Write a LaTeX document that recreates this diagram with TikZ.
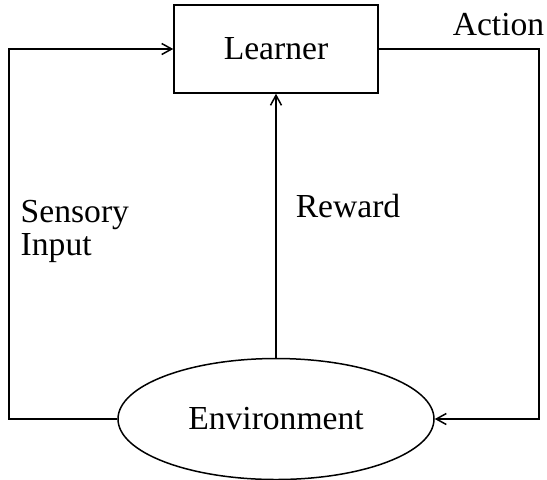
\documentclass[tikz,border=0pt]{standalone}
\usepackage{fontspec}
\setmainfont{Liberation Serif}
\usetikzlibrary{shapes.geometric,arrows.meta}
\begin{document}
\begin{tikzpicture}[x=0.5pt,y=-0.5pt,line width=0.75pt,
  >={Straight Barb[length=5pt,width=5.5pt]},
  every node/.style={font=\fontsize{16.8}{16.5}\selectfont},
  box/.style={draw,rectangle,minimum width=102pt,minimum height=44pt,inner sep=0pt},
  world/.style={draw,ellipse,minimum width=158pt,minimum height=60.5pt,inner sep=0pt},
  lab/.style={inner sep=0pt,align=left}]
\useasboundingbox (0,0) rectangle (547,479);
\node[box] (learner) at (276,49) {Learner};
\node[world] (env) at (276,419) {Environment};
\coordinate (lc) at (9,419);
\coordinate (rc) at (539,49);
\draw [->] (env.west) -- (lc) |- (learner.west);
\draw [->] (learner.east) -- (rc) |- (env.east);
\draw [->] (env.north) -- (learner.south);
\node[lab,anchor=base east] (act) at (545,35) {Action};
\node[lab,anchor=west] (sens) at (20,231) {Sensory\\Input};
\node[lab,anchor=base west] (rew) at (295,217) {Reward};
\end{tikzpicture}
\end{document}
